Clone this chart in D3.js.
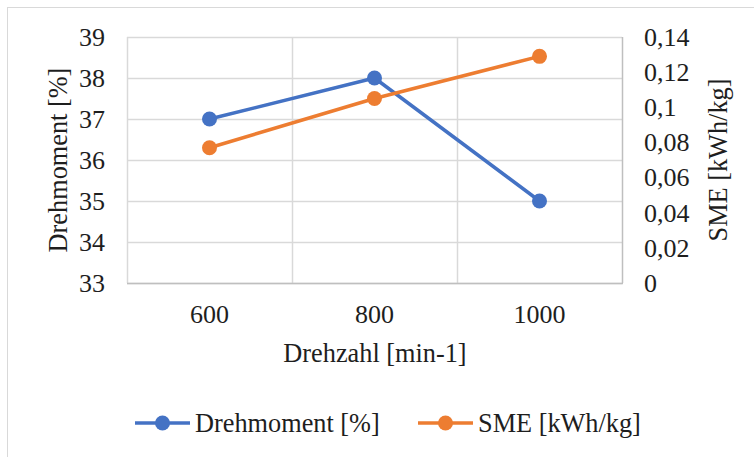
<!DOCTYPE html>
<html>
<head>
<meta charset="utf-8">
<script src="https://cdn.jsdelivr.net/npm/d3@7"></script>
<style>
  html, body { margin: 0; padding: 0; background: #fff; }
  svg { display: block; }
</style>
</head>
<body>
<svg id="chart" width="754" height="457" font-family="'Liberation Serif', 'Times New Roman', Times, serif"></svg>
<script>
// Data
const categories = ["600", "800", "1000"];
const drehmoment = [37, 38, 35];
const sme = [0.077, 0.105, 0.129];
const leftTicks = [33, 34, 35, 36, 37, 38, 39];
const rightTicks = [0, 0.02, 0.04, 0.06, 0.08, 0.1, 0.12, 0.14];
const seriesNames = ["Drehmoment [%]", "SME [kWh/kg]"];
const xTitle = "Drehzahl [min-1]";

const svg = d3.select("#chart");
const W = 754, H = 457;
const plot = { left: 127, right: 622, top: 37, bottom: 283 };
const blue = "#4472C4", orange = "#ED7D31";
const FONT = "Liberation Serif";
const TXT = "#1e1e1e";

// Chart area border (only top/left visible in the crop)
svg.append("rect").attr("x", 7.5).attr("y", 7.5).attr("width", W + 10).attr("height", H + 10)
  .attr("fill", "#fff").attr("stroke", "#d9d9d9").attr("stroke-width", 1);

const x = d3.scaleBand().domain(categories).range([plot.left, plot.right]).padding(0);
const yL = d3.scaleLinear().domain([33, 39]).range([plot.bottom, plot.top]);
const yR = d3.scaleLinear().domain([0, 0.14]).range([plot.bottom, plot.top]);

// Horizontal gridlines
svg.append("g").selectAll("line").data(leftTicks).join("line")
  .attr("x1", plot.left).attr("x2", plot.right)
  .attr("y1", d => Math.round(yL(d)) + 0.5).attr("y2", d => Math.round(yL(d)) + 0.5)
  .attr("stroke", "#d9d9d9").attr("stroke-width", 1.5);

// Vertical gridlines at band boundaries
const vBounds = categories.map(c => x(c)).concat([plot.right]);
svg.append("g").selectAll("line").data(vBounds).join("line")
  .attr("x1", d => Math.round(d) + 0.5).attr("x2", d => Math.round(d) + 0.5)
  .attr("y1", plot.top).attr("y2", plot.bottom)
  .attr("stroke", (d, i) => i === vBounds.length - 1 ? "#bfbfbf" : "#d9d9d9").attr("stroke-width", 1.5);

// Bottom axis line
svg.append("line").attr("x1", plot.left).attr("x2", plot.right + 1)
  .attr("y1", plot.bottom + 0.5).attr("y2", plot.bottom + 0.5)
  .attr("stroke", "#bfbfbf").attr("stroke-width", 1.5);

function txt(sel) {
  return sel.attr("font-family", FONT).attr("fill", TXT);
}

const tickFont = 26;
const titleFont = 26.3;
// Left axis labels
txt(svg.append("g").selectAll("text").data(leftTicks).join("text")
  .attr("x", 105).attr("y", d => yL(d)).attr("dy", "0.34em")
  .attr("text-anchor", "end").attr("font-size", tickFont).text(d => d));

// Right axis labels
const fmtR = d => String(+d.toFixed(2)).replace(".", ",");
txt(svg.append("g").selectAll("text").data(rightTicks).join("text")
  .attr("x", 644).attr("y", d => yR(d)).attr("dy", "0.34em")
  .attr("text-anchor", "start").attr("font-size", tickFont).text(fmtR));

// X labels
txt(svg.append("g").selectAll("text").data(categories).join("text")
  .attr("x", d => x(d) + x.bandwidth() / 2).attr("y", 323)
  .attr("text-anchor", "middle").attr("font-size", tickFont).text(d => d));

// Axis titles
txt(svg.append("text").attr("x", 375).attr("y", 353).attr("dy", "0.34em")
  .attr("text-anchor", "middle").attr("font-size", titleFont).text(xTitle));
txt(svg.append("text").attr("transform", `translate(58,${(plot.top + plot.bottom) / 2}) rotate(-90)`)
  .attr("dy", "0.34em").attr("text-anchor", "middle").attr("font-size", titleFont).text(seriesNames[0]));
txt(svg.append("text").attr("transform", `translate(718,${(plot.top + plot.bottom) / 2}) rotate(-90)`)
  .attr("dy", "0.34em").attr("text-anchor", "middle").attr("font-size", titleFont).text(seriesNames[1]));

// Lines
const cx = d => x(d) + x.bandwidth() / 2;
const lineL = d3.line().x((d, i) => cx(categories[i])).y(d => yL(d));
const lineR = d3.line().x((d, i) => cx(categories[i])).y(d => yR(d));

svg.append("path").datum(drehmoment).attr("d", lineL).attr("fill", "none")
  .attr("stroke", blue).attr("stroke-width", 3.5).attr("stroke-linejoin", "round");
svg.append("path").datum(sme).attr("d", lineR).attr("fill", "none")
  .attr("stroke", orange).attr("stroke-width", 3.5).attr("stroke-linejoin", "round");

svg.append("g").selectAll("circle").data(drehmoment).join("circle")
  .attr("cx", (d, i) => cx(categories[i])).attr("cy", d => yL(d)).attr("r", 7.5).attr("fill", blue);
svg.append("g").selectAll("circle").data(sme).join("circle")
  .attr("cx", (d, i) => cx(categories[i])).attr("cy", d => yR(d)).attr("r", 7.5).attr("fill", orange);

// Legend
const legend = [
  { name: seriesNames[0], color: blue, x0: 135 },
  { name: seriesNames[1], color: orange, x0: 418 }
];
const lg = svg.append("g").selectAll("g").data(legend).join("g")
  .attr("transform", d => `translate(${d.x0},423)`);
lg.append("line").attr("x1", 0).attr("x2", 55).attr("y1", 0).attr("y2", 0)
  .attr("stroke", d => d.color).attr("stroke-width", 3.5);
lg.append("circle").attr("cx", 27.5).attr("cy", 0).attr("r", 7.5).attr("fill", d => d.color);
txt(lg.append("text").attr("x", 60).attr("y", 0).attr("dy", "0.34em")
  .attr("font-size", titleFont).text(d => d.name));
</script>
</body>
</html>
